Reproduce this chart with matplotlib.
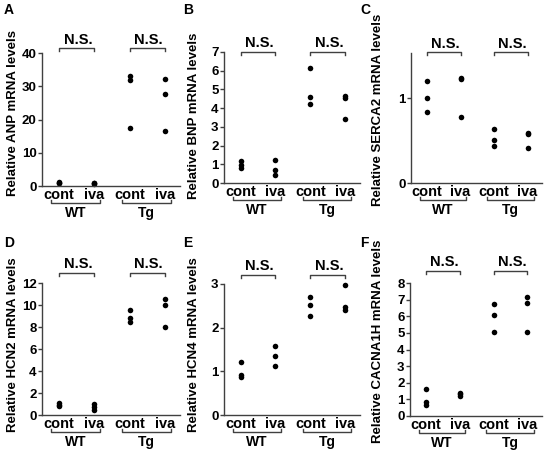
import matplotlib
matplotlib.use("Agg")
import matplotlib.pyplot as plt
from matplotlib.transforms import blended_transform_factory, ScaledTranslation

plt.rcParams['font.family'] = ['Liberation Sans', 'DejaVu Sans']
plt.rcParams['font.weight'] = 'bold'

categories = ["cont", "iva", "cont", "iva"]
groups = ["WT", "Tg"]
sig_labels = ["N.S.", "N.S."]

anp = [[1.0, 1.3, 0.8], [0.8, 0.6, 1.0], [33.2, 32.0, 17.4], [32.3, 27.6, 16.6]]
bnp = [[1.15, 0.95, 0.8], [1.25, 0.7, 0.45], [6.15, 4.58, 4.24], [4.63, 4.55, 3.44]]
serca2 = [[1.2, 1.0, 0.835], [1.24, 1.22, 0.78], [0.63, 0.51, 0.44], [0.59, 0.58, 0.41]]
hcn2 = [[1.05, 0.95, 0.85], [1.0, 0.75, 0.5], [9.57, 8.8, 8.45], [10.58, 9.97, 7.96]]
hcn4 = [[1.22, 0.92, 0.86], [1.58, 1.36, 1.13], [2.7, 2.51, 2.26], [2.98, 2.48, 2.40]]
cacna1h = [[1.6, 0.82, 0.66], [1.4, 1.3, 1.2], [6.73, 6.05, 5.05], [7.14, 6.8, 5.03]]

ylabels = ["Relative ANP mRNA levels", "Relative BNP mRNA levels",
           "Relative SERCA2 mRNA levels", "Relative HCN2 mRNA levels",
           "Relative HCN4 mRNA levels", "Relative CACNA1H mRNA levels"]
letters = ["A", "B", "C", "D", "E", "F"]
yticks = [[0, 10, 20, 30, 40], [0, 1, 2, 3, 4, 5, 6, 7], [0, 1],
          [0, 2, 4, 6, 8, 10, 12], [0, 1, 2, 3], [0, 1, 2, 3, 4, 5, 6, 7, 8]]
ylims = [40, 7, 1.53, 12, 3, 8]
datasets = [anp, bnp, serca2, hcn2, hcn4, cacna1h]

W, H = 550, 457
fig = plt.figure(figsize=(5.5, 4.57), dpi=100)

# axes boxes in pixels: left, right, top, bottom
boxes = [(42, 180, 53, 186), (224, 360, 52, 183), (411, 542, 53, 183),
         (42, 180, 283, 415), (224, 360, 284, 415), (410, 542, 283, 416)]
# N.S. bracket / text pixel y
ns_pos = [(48, 40), (52, 43), (52, 44), (273, 264), (275, 266), (271, 262)]
ylab_pos = [(13, 113), (194, 116), (378, 110), (13, 345), (194, 345), (378, 341)]
letter_pos = [(4, 10), (183, 10), (360, 10), (4, 243), (183, 243), (360, 243)]

axcol = '#404040'

for i in range(6):
    l, r, t, b = boxes[i]
    ax = fig.add_axes([l / W, 1 - b / H, (r - l) / W, (b - t) / H])
    data = datasets[i]
    for j, vals in enumerate(data):
        ax.plot([j] * len(vals), vals, 'o', color='black', markersize=4.0,
                markeredgewidth=0, clip_on=False)
    ax.set_xlim(-0.48, 3.43)
    ax.set_ylim(0, ylims[i])
    ax.set_yticks(yticks[i])
    ax.set_xticks(range(4))
    ax.set_xticklabels(categories, fontsize=10.5, fontweight='bold')
    ax.tick_params(axis='x', length=0, pad=1.5)
    ax.tick_params(axis='y', length=3, width=1, color=axcol, pad=1,
                   labelsize=9.5)
    for lab in ax.get_yticklabels():
        lab.set_fontweight('bold')
    for s in ['top', 'right']:
        ax.spines[s].set_visible(False)
    for s in ['left', 'bottom']:
        ax.spines[s].set_color(axcol)
        ax.spines[s].set_linewidth(1.0)
    ax.patch.set_alpha(0)

    blend = blended_transform_factory(ax.transData, ax.transAxes)
    # group brackets below
    off_b = blend + ScaledTranslation(0, -17 / 100, fig.dpi_scale_trans)
    off_t = blend + ScaledTranslation(0, -20 / 100, fig.dpi_scale_trans)
    for g, (x0, x1) in enumerate([(-0.22, 1.15), (1.78, 3.18)]):
        ax.plot([x0, x0, x1, x1], [0.022, 0, 0, 0.022], color=axcol, lw=1,
                transform=off_b, clip_on=False)
        ax.text((x0 + x1) / 2, 0, groups[g], transform=off_t, ha='center',
                va='top', fontsize=10, fontweight='bold')
    # N.S. brackets above
    by, ty = ns_pos[i]
    hb = (b - t)
    yb = (b - by) / hb
    yt = (b - ty) / hb
    for g, (x0, x1) in enumerate([(0.0, 1.0), (2.0, 3.0)]):
        ax.plot([x0, x0, x1, x1], [yb - 0.022, yb, yb, yb - 0.022], color=axcol,
                lw=1, transform=blend, clip_on=False)
        ax.text((x0 + x1) / 2 + 0.04, yt, sig_labels[g], transform=blend,
                ha='center', va='center', fontsize=10.5, fontweight='bold')

    lx, ly = ylab_pos[i]
    fig.text(lx / W, 1 - ly / H, ylabels[i], rotation=90, ha='center',
             va='center', fontsize=9.5, fontweight='bold')
    px, py = letter_pos[i]
    fig.text(px / W, 1 - py / H, letters[i], ha='left', va='center',
             fontsize=10, fontweight='bold')

fig.savefig("out.png", dpi=100)
